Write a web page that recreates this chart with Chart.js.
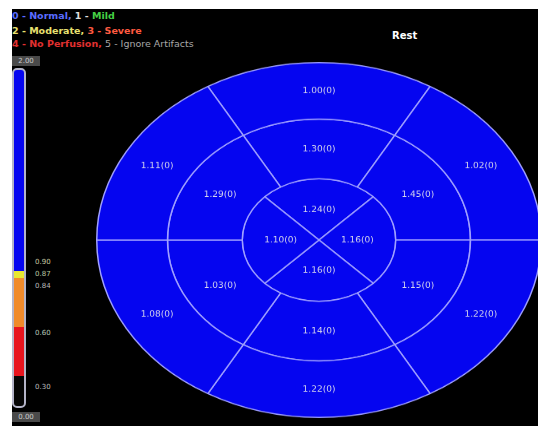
<!DOCTYPE html>
<html>
<head>
<meta charset="utf-8">
<script src="https://cdn.jsdelivr.net/npm/chart.js@4/dist/chart.umd.min.js"></script>
<style>
html, body { margin: 0; padding: 0; background: #fff; width: 538px; height: 426px; overflow: hidden; font-family: "DejaVu Sans", sans-serif; }
#panel { position: absolute; left: 12px; top: 9px; width: 526px; height: 417px; background: #000; }
.key { position: absolute; left: 12px; font-size: 9.5px; font-weight: bold; white-space: nowrap; line-height: 11px; }
#rest { position: absolute; left: 392px; top: 30px; color: #fff; font-size: 10px; font-weight: bold; }
#bar { position: absolute; left: 12px; top: 68px; width: 10px; height: 336px; border: 2px solid #b4b4c8; border-radius: 5px; }
.box { position: absolute; left: 12px; width: 28px; height: 10px; background: #4a4a4a; color: #ccc; font-size: 7px; line-height: 10px; text-align: center; }
.tick { position: absolute; left: 35px; font-size: 7px; color: #bbb; line-height: 8px; }
#polar { position: absolute; left: 96px; top: 62px; }
</style>
</head>
<body>
<div id="panel"></div>
<div class="key" style="top:10px"><span style="color:#5a6cff">0 - Normal, </span><span style="color:#ddd">1 - </span><span style="color:#45d045">Mild</span></div>
<div class="key" style="top:25px"><span style="color:#e8e070">2 - Moderate, </span><span style="color:#ff5a40">3 - Severe</span></div>
<div class="key" style="top:38px"><span style="color:#e03030">4 - No Perfusion, </span><span style="color:#a8a8a8;font-weight:normal">5 - Ignore Artifacts</span></div>
<div id="rest">Rest</div>
<div id="bar"></div>
<div id="ticks"></div>
<canvas id="polar" width="446" height="446" style="width:446px;height:356px"></canvas>
<script>
// segment values, listed clockwise starting from the top segment of each ring
const basalValues = [1.00, 1.02, 1.22, 1.22, 1.08, 1.11];
const midValues = [1.30, 1.45, 1.15, 1.14, 1.03, 1.29];
const apicalValues = [1.24, 1.16, 1.16, 1.10];
const basalScores = [0, 0, 0, 0, 0, 0];
const midScores = [0, 0, 0, 0, 0, 0];
const apicalScores = [0, 0, 0, 0];

// colour scale
const scaleMax = '2.00';
const scaleMin = '0.00';
const scaleTicks = ['0.90', '0.87', '0.84', '0.60', '0.30'];
const bandLimits = [0.30, 0.60, 0.84, 0.90];
const bandColors = ['#050505', '#e8141e', '#f08a2a', '#e8e830', '#0505f0'];

function colorFor(v) {
  let i = 0;
  while (i < bandLimits.length && v >= bandLimits[i]) i++;
  return bandColors[i];
}

// colour bar legend
const bar = document.getElementById('bar');
bar.style.background = 'linear-gradient(to bottom, #0505f0 0%, #0505f0 59.8%, #e8e830 59.8%, #e8e830 62%, #f08a2a 62%, #f08a2a 76.5%, #e8141e 76.5%, #e8141e 91%, #050505 91%)';
const tickTops = [258, 270, 282, 329, 383];
const tickColors = ['#c8c8a0', '#b8c8a0', '#bbb', '#b8c8b8', '#bbb'];
const tickBox = document.getElementById('ticks');
scaleTicks.forEach((t, i) => {
  const d = document.createElement('div');
  d.className = 'tick';
  d.style.top = tickTops[i] + 'px';
  d.style.color = tickColors[i];
  d.textContent = t;
  tickBox.appendChild(d);
});
[[scaleMax, 56], [scaleMin, 412]].forEach(([t, top]) => {
  const d = document.createElement('div');
  d.className = 'box';
  d.style.top = top + 'px';
  d.textContent = t;
  document.body.appendChild(d);
});

// segment labels, drawn un-squashed on the stretched canvas
const labelPlugin = {
  id: 'segLabels',
  afterDatasetsDraw(chart) {
    const ctx = chart.ctx;
    const sy = chart.canvas.clientHeight / chart.canvas.clientWidth;
    ctx.save();
    ctx.font = '9px "DejaVu Sans"';
    ctx.fillStyle = '#d4d4ec';
    ctx.textAlign = 'center';
    ctx.textBaseline = 'middle';
    chart.data.datasets.forEach((ds, di) => {
      chart.getDatasetMeta(di).data.forEach((arc, i) => {
        const p = arc.tooltipPosition(true);
        ctx.save();
        ctx.translate(p.x, p.y);
        ctx.scale(1, 1 / sy);
        ctx.fillText(ds.values[i].toFixed(2) + '(' + ds.scores[i] + ')', 0, 0);
        ctx.restore();
      });
    });
    ctx.restore();
  }
};

// every segment of a ring gets the same arc; the value sets colour and label
const ring = (values, scores, weight, rotation) => ({
  data: values.map(() => 1),
  values: values,
  scores: scores,
  weight: weight,
  rotation: rotation,
  backgroundColor: values.map(colorFor),
  borderColor: '#a0a0ff',
  borderWidth: 1.5
});

new Chart(document.getElementById('polar'), {
  type: 'doughnut',
  data: {
    labels: ['1', '2', '3', '4', '5', '6'],
    datasets: [
      ring(basalValues, basalScores, 71, -30),
      ring(midValues, midScores, 75, -30),
      ring(apicalValues, apicalScores, 77, -45)
    ]
  },
  options: {
    responsive: false,
    animation: false,
    cutout: 0,
    plugins: {
      legend: { display: false },
      tooltip: { enabled: false }
    }
  },
  plugins: [labelPlugin]
});
</script>
</body>
</html>
